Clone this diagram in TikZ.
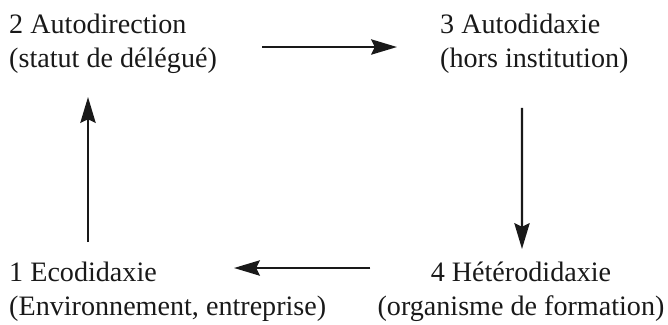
\documentclass[tikz,border=0pt]{standalone}
\usepackage{fontspec}
\setmainfont{Liberation Serif}
\usetikzlibrary{arrows.meta}
\tikzstyle{stage}=[inner sep=0pt, align=left, text=black!90, font=\fontsize{24}{29}\selectfont]
\tikzstyle{flow}=[line width=2pt, draw=black!90, -{Stealth[length=22pt,width=13pt,inset=3pt]}]

\begin{document}
\begin{tikzpicture}[x=0.03cm, y=-0.03cm]
	\useasboundingbox (0,0) rectangle (668,324);
	\node[stage, anchor=north west] (autodir) at (9,14) {2 Autodirection\\(statut de délégué)};
	\node[stage, anchor=north west] (autodid) at (440,14) {3 Autodidaxie\\(hors institution)};
	\node[stage, anchor=north west] (ecodid) at (9,262) {1 Ecodidaxie\\(Environnement, entreprise)};
	\node[stage, anchor=north, align=center] (hetero) at (521,262) {4 Hétérodidaxie\\(organisme de formation)};
	% cycle
	\draw[flow, shorten <=1.35cm, shorten >=1.29cm] ([yshift=-0.09cm]autodir.east) -- ([yshift=-0.09cm]autodir.east -| autodid.west);
	\draw[flow] ([xshift=2.46cm, yshift=-1.02cm]autodid.south west) -- ([xshift=0.03cm, yshift=0.39cm]hetero.north);
	\draw[flow] ([xshift=-0.21cm]hetero.north west |- 0,268) -- ([xshift=6.75cm]ecodid.west |- 0,268);
	\draw[flow] ([xshift=2.37cm, yshift=0.6cm]ecodid.north west) -- ([xshift=2.37cm, yshift=-0.69cm]autodir.south west);
\end{tikzpicture}
\end{document}
